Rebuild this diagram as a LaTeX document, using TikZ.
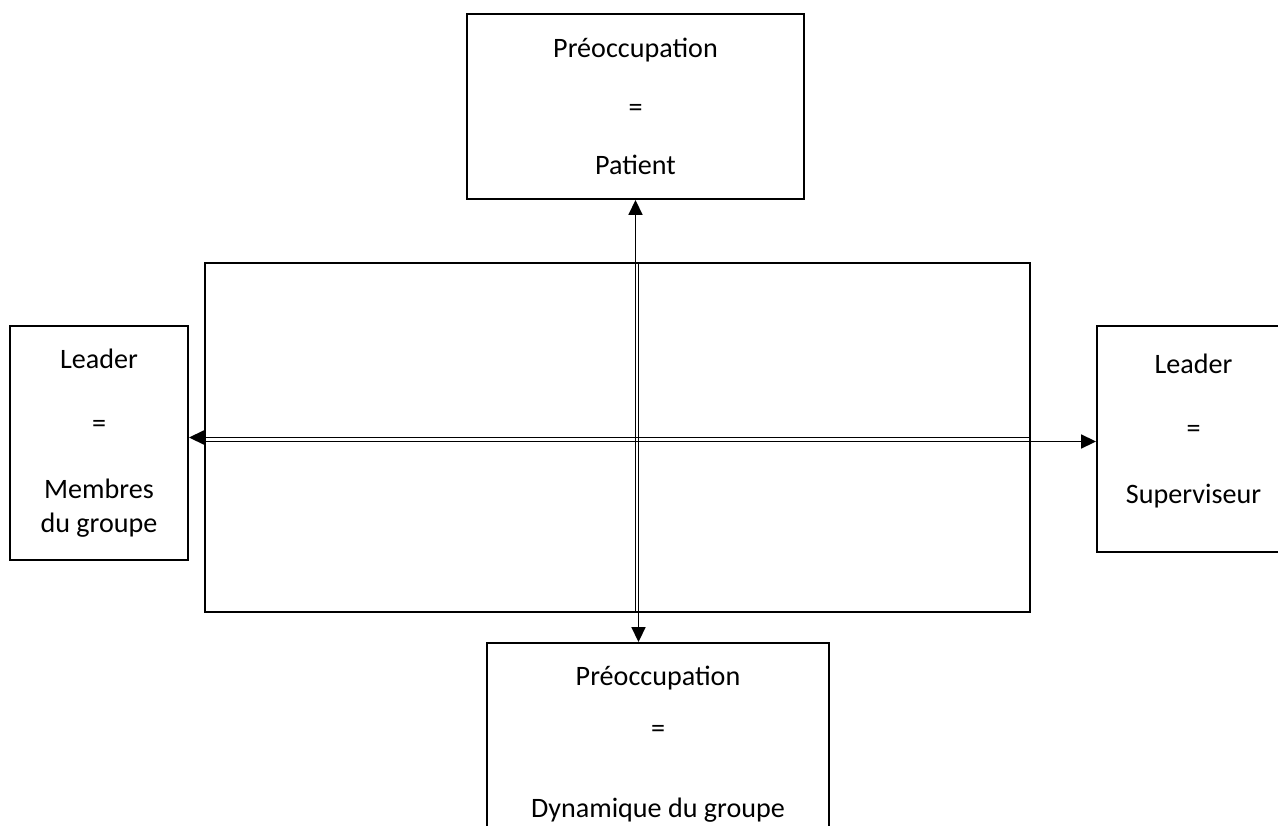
\documentclass[tikz,border=0pt]{standalone}
\usepackage{fontspec}
\setmainfont{Carlito}
\usetikzlibrary{arrows.meta}

\begin{document}
\begin{tikzpicture}[x=0.02cm,y=-0.02cm,>={Triangle[length=0.3cm,width=0.28cm]},semithick]
  \tikzstyle{box}=[rectangle,draw,line width=1.1pt,inner sep=0pt,align=center,font=\fontsize{16}{19.5}\selectfont]
  \tikzstyle{link}=[line width=1pt]

  \useasboundingbox (0,0) rectangle (1278,825);
  \clip (0,0) rectangle (1278,825);

  \node[box,minimum width=16.5cm,minimum height=6.98cm] (cadre) at (617.5,437.5) {};
  \node[box,minimum width=6.74cm,minimum height=3.7cm] (patient) at (635.5,106.5)
    {Préoccupation\\[14pt]=\\[14pt]Patient};
  \node[box,minimum width=3.56cm,minimum height=4.68cm] (membres) at (99,443)
    {Leader\\[17pt]=\\[18pt]Membres\\du groupe};
  \node[box,minimum width=3.86cm,minimum height=4.52cm] (superviseur) at (1193.5,439)
    {Leader\\[17pt]=\\[18pt]Superviseur\\[-8pt]\mbox{}};
  \node[box,minimum width=6.84cm,minimum height=4.04cm] (groupe) at (658,744)
    {Préoccupation\\[10pt]=\\[26pt]Dynamique du groupe};

  \coordinate (vx) at ([xshift=0.06cm]patient.south);
  \coordinate (hy) at ([yshift=-0.08cm]cadre.west);

  \draw[link,->] (patient.south |- cadre.south) -- (patient.south);
  \draw[link,->] (vx |- cadre.north) -- (vx |- groupe.north);
  \draw[link,->] (cadre.east) -- (cadre.east -| membres.east);
  \draw[link,->] (hy) -- (hy -| superviseur.west);
\end{tikzpicture}
\end{document}
